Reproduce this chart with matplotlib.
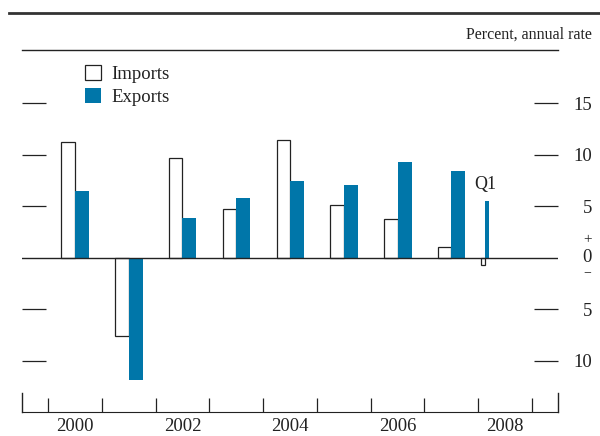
import numpy as np
import matplotlib
matplotlib.use("Agg")
import matplotlib.pyplot as plt
from matplotlib.lines import Line2D
from matplotlib.patches import Patch

plt.rcParams['font.family'] = ['Liberation Serif', 'DejaVu Serif']

# Datos anuales (porcentaje, tasa anual)
years = [2000, 2001, 2002, 2003, 2004, 2005, 2006, 2007]
imports = [11.2, -7.6, 9.7, 4.75, 11.45, 5.1, 3.7, 1.0]
exports = [6.5, -11.9, 3.8, 5.8, 7.4, 7.0, 9.3, 8.4]
# 2008 Q1
q1_x = 2008
q1_imports = -0.7
q1_exports = 5.5

year_labels = ['2000', '2002', '2004', '2006', '2008']
ytick_vals = [-10, -5, 5, 10, 15]

blue = '#0076A9'
ink = '#222222'

fig = plt.figure(figsize=(6.0, 4.36), dpi=100)
ax = fig.add_axes([22 / 600, 1 - 412 / 436, (558 - 22) / 600, (412 - 50.5) / 436])

yrs = np.array(years)
ax.bar(yrs + 0.25, imports, width=0.25, align='edge', facecolor='white',
       edgecolor=ink, linewidth=0.9, zorder=3)
ax.bar(yrs + 0.5, exports, width=0.26, align='edge', color=blue, linewidth=0, zorder=3)
ax.bar(q1_x + 0.06, q1_imports, width=0.07, align='edge', facecolor='white',
       edgecolor=ink, linewidth=0.9, zorder=3)
ax.bar(q1_x + 0.125, q1_exports, width=0.075, align='edge', color=blue, linewidth=0, zorder=3)
ax.axhline(0, color=ink, linewidth=1.0, zorder=4)

ax.text(q1_x + 0.14, 7.1, 'Q1', fontsize=13, color=ink, ha='center', va='center')

ax.set_xlim(1999.517, 2009.483)
ax.set_ylim(-15, 20.1)

# ejes
for side in ['left', 'right']:
    ax.spines[side].set_bounds(-15, -13.15)
    ax.spines[side].set_color(ink)
    ax.spines[side].set_linewidth(1.0)
ax.spines['bottom'].set_color(ink)
ax.spines['top'].set_color(ink)
ax.spines['top'].set_linewidth(1.0)

# ticks x: bordes de año y etiquetas centradas
ax.set_xticks(np.arange(2000, 2010))
ax.set_xticklabels([])
ax.set_xticks([int(y) + 0.5 for y in year_labels], minor=True)
ax.set_xticklabels(year_labels, minor=True, fontsize=13.5, color=ink)
ax.tick_params(axis='x', which='major', direction='in', length=10, width=0.9, color=ink)
ax.tick_params(axis='x', which='minor', length=0, pad=4)

# ticks y: guiones a ambos lados, etiquetas a la derecha
ax.set_yticks(ytick_vals)
ax.set_yticklabels([str(abs(v)) for v in ytick_vals])
ax.tick_params(axis='y', direction='in', length=17, width=0.9, color=ink,
               left=True, right=True, labelleft=False, labelright=True,
               labelsize=13.5, labelcolor=ink, pad=24.5)
for lab in ax.get_yticklabels():
    lab.set_horizontalalignment('right')

xr = 1.0 + 34 / 536
ax.text(xr, 0, '0', transform=ax.get_yaxis_transform(), ha='right',
        va='center', fontsize=13.5, color=ink)
ax.text(xr - 0.001, 1.75, '+', transform=ax.get_yaxis_transform(), ha='right',
        va='center', fontsize=11, color=ink)
ax.text(xr - 0.001, -1.45, '\u2212', transform=ax.get_yaxis_transform(), ha='right',
        va='center', fontsize=10, color=ink)

# leyenda
handles = [Patch(facecolor='white', edgecolor=ink, linewidth=0.9, label='Imports'),
           Patch(facecolor=blue, edgecolor='none', label='Exports')]
fig.legend(handles=handles, loc='upper left', bbox_to_anchor=(85 / 600, 1 - 65.5 / 436),
           frameon=False, fontsize=13.5, handlelength=0.85, handleheight=0.8,
           handletextpad=0.55, labelspacing=0.28, borderpad=0, borderaxespad=0,
           labelcolor=ink)

fig.text(592 / 600, 1 - 35 / 436, 'Percent, annual rate', ha='right', va='center',
         fontsize=11.5, color=ink)
fig.add_artist(Line2D([9 / 600, 1.0], [1 - 13.5 / 436] * 2, color='#333333', linewidth=2.0))

fig.savefig('out.png', dpi=100)
